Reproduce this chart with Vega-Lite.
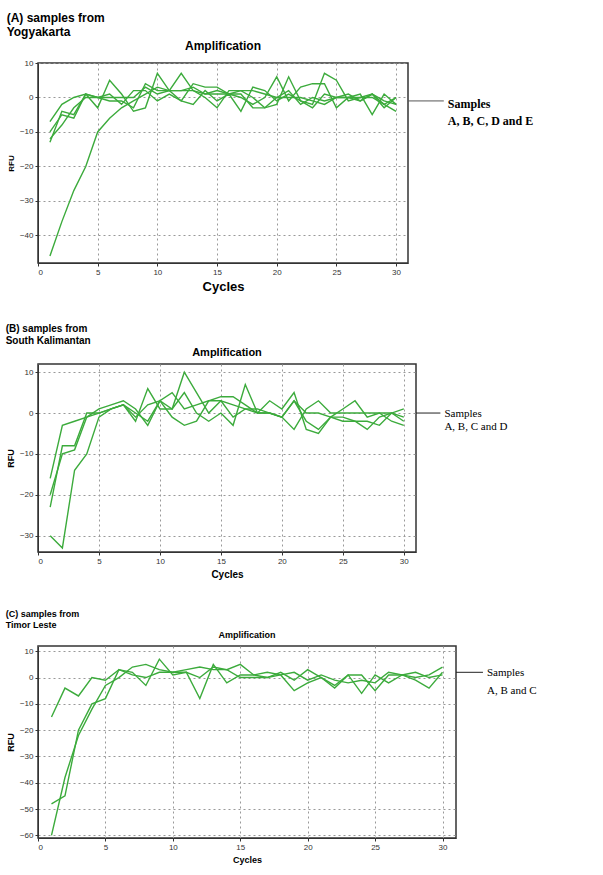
{
"$schema":"https://vega.github.io/schema/vega-lite/v6.json",
"background":"white",
"padding":{"left":5,"top":12,"right":5,"bottom":3},
"spacing":30,
"config":{"font":"Liberation Sans","view":{"stroke":"#333","strokeWidth":1.5},
"axis":{"grid":true,"gridDash":[2,3],"gridColor":"#999","labelFontSize":8,"labelColor":"#333","labelOverlap":false,"titleFontSize":12,"titleFontWeight":"bold","domainColor":"#333","tickColor":"#333","tickSize":3},
"title":{"fontSize":12,"fontWeight":"bold"},
"line":{"color":"#3cab3c","strokeWidth":1.4}},
"datasets":{
"A":[
{"c":1,"a":-46,"b":-7,"d":-13,"e":-10,"f":-12},
{"c":2,"a":-36,"b":-2,"d":-4,"e":-5,"f":-8},
{"c":3,"a":-27,"b":0,"d":-5,"e":-6,"f":-3},
{"c":4,"a":-20,"b":1,"d":1,"e":1,"f":0},
{"c":5,"a":-10,"b":-3,"d":0,"e":0,"f":0},
{"c":6,"a":-6,"b":5,"d":0,"e":1,"f":-1},
{"c":7,"a":-3,"b":1,"d":0,"e":-2,"f":-1},
{"c":8,"a":-1,"b":-4,"d":0,"e":2,"f":-3},
{"c":9,"a":1,"b":-3,"d":3,"e":2,"f":4},
{"c":10,"a":3,"b":7,"d":1,"e":-1,"f":2},
{"c":11,"a":2,"b":2,"d":2,"e":1,"f":2},
{"c":12,"a":2,"b":-1,"d":7,"e":-1,"f":2},
{"c":13,"a":2,"b":4,"d":2,"e":-2,"f":3},
{"c":14,"a":1,"b":3,"d":0,"e":2,"f":1},
{"c":15,"a":1,"b":3,"d":-3,"e":-1,"f":2},
{"c":16,"a":1,"b":1,"d":2,"e":1,"f":1},
{"c":17,"a":2,"b":0,"d":2,"e":-4,"f":1},
{"c":18,"a":2,"b":-2,"d":0,"e":3,"f":-3},
{"c":19,"a":1,"b":0,"d":-3,"e":2,"f":-3},
{"c":20,"a":0,"b":6,"d":-2,"e":-1,"f":0},
{"c":21,"a":0,"b":-1,"d":6,"e":1,"f":2},
{"c":22,"a":0,"b":3,"d":-1,"e":-1,"f":-2},
{"c":23,"a":-1,"b":4,"d":-2,"e":-3,"f":0},
{"c":24,"a":-2,"b":4,"d":7,"e":1,"f":-1},
{"c":25,"a":0,"b":-3,"d":5,"e":0,"f":0},
{"c":26,"a":0,"b":0,"d":-1,"e":1,"f":0},
{"c":27,"a":0,"b":1,"d":0,"e":-1,"f":-1},
{"c":28,"a":1,"b":-5,"d":0,"e":1,"f":1},
{"c":29,"a":-1,"b":1,"d":-2,"e":-2,"f":-3},
{"c":30,"a":-2,"b":-2,"d":0,"e":-4,"f":0}],
"B":[
{"c":1,"a":-30,"b":-23,"d":-16,"e":-20},
{"c":2,"a":-33,"b":-8,"d":-3,"e":-10},
{"c":3,"a":-14,"b":-8,"d":-2,"e":-9},
{"c":4,"a":-10,"b":0,"d":-1,"e":-1},
{"c":5,"a":-1,"b":0,"d":1,"e":0},
{"c":6,"a":1,"b":1,"d":2,"e":1},
{"c":7,"a":2,"b":2,"d":3,"e":2},
{"c":8,"a":0,"b":-2,"d":1,"e":-1},
{"c":9,"a":-2,"b":6,"d":-3,"e":2},
{"c":10,"a":3,"b":1,"d":3,"e":3},
{"c":11,"a":5,"b":1,"d":-1,"e":1},
{"c":12,"a":1,"b":10,"d":-3,"e":5},
{"c":13,"a":2,"b":5,"d":-2,"e":0},
{"c":14,"a":3,"b":0,"d":3,"e":-2},
{"c":15,"a":3,"b":3,"d":4,"e":0},
{"c":16,"a":-1,"b":2,"d":4,"e":-3},
{"c":17,"a":1,"b":1,"d":2,"e":7},
{"c":18,"a":1,"b":0,"d":0,"e":0},
{"c":19,"a":0,"b":3,"d":0,"e":0},
{"c":20,"a":-1,"b":1,"d":-1,"e":-1},
{"c":21,"a":3,"b":5,"d":-4,"e":3},
{"c":22,"a":-2,"b":-4,"d":1,"e":0},
{"c":23,"a":-4,"b":-5,"d":3,"e":0},
{"c":24,"a":-1,"b":-1,"d":0,"e":-1},
{"c":25,"a":-1,"b":1,"d":0,"e":-2},
{"c":26,"a":-2,"b":3,"d":0,"e":-2},
{"c":27,"a":-4,"b":-1,"d":0,"e":-2},
{"c":28,"a":-1,"b":0,"d":0,"e":-3},
{"c":29,"a":0,"b":-2,"d":0,"e":0},
{"c":30,"a":-2,"b":-3,"d":1,"e":-1}],
"C":[
{"c":1,"a":-15,"b":-48,"d":-60},
{"c":2,"a":-4,"b":-45,"d":-38},
{"c":3,"a":-7,"b":-20,"d":-22},
{"c":4,"a":0,"b":-10,"d":-12},
{"c":5,"a":-1,"b":-8,"d":-3},
{"c":6,"a":3,"b":3,"d":0},
{"c":7,"a":2,"b":1,"d":4},
{"c":8,"a":-3,"b":0,"d":5},
{"c":9,"a":7,"b":2,"d":3},
{"c":10,"a":1,"b":2,"d":2},
{"c":11,"a":2,"b":2,"d":3},
{"c":12,"a":0,"b":-8,"d":4},
{"c":13,"a":4,"b":5,"d":3},
{"c":14,"a":3,"b":-2,"d":3},
{"c":15,"a":5,"b":1,"d":0},
{"c":16,"a":1,"b":1,"d":0},
{"c":17,"a":0,"b":2,"d":0},
{"c":18,"a":1,"b":1,"d":2},
{"c":19,"a":2,"b":-5,"d":-1},
{"c":20,"a":-1,"b":-2,"d":3},
{"c":21,"a":1,"b":0,"d":0},
{"c":22,"a":-1,"b":-3,"d":-4},
{"c":23,"a":-2,"b":1,"d":1},
{"c":24,"a":-1,"b":-6,"d":1},
{"c":25,"a":-2,"b":1,"d":-5},
{"c":26,"a":2,"b":-2,"d":1},
{"c":27,"a":1,"b":1,"d":1},
{"c":28,"a":0,"b":-1,"d":2},
{"c":29,"a":1,"b":-4,"d":0},
{"c":30,"a":4,"b":2,"d":1}],
"annA":[{"x":31,"x2":34,"y":-1}],
"annB":[{"x":31,"x2":33,"y":0}],
"annC":[{"x":31,"x2":33,"y":2}]
},
"vconcat":[
{"title":{"text":["(A) samples from","Yogyakarta"],"anchor":"start","fontSize":12,"offset":0},
 "vconcat":[{"width":370,"height":200,
 "title":{"text":"Amplification","fontSize":12,"offset":6},
 "layer":[
  {"data":{"name":"A"},"transform":[{"fold":["a","b","d","e","f"],"as":["s","v"]}],
   "mark":{"type":"line","clip":true},
   "encoding":{"x":{"field":"c","type":"quantitative","scale":{"domain":[0,31]},"title":"Cycles","axis":{"values":[0,5,10,15,20,25,30],"titleFontSize":13}},
   "y":{"field":"v","type":"quantitative","scale":{"domain":[-48,10],"nice":false},"title":"RFU","axis":{"values":[10,0,-10,-20,-30,-40],"titleFontSize":8}},
   "detail":{"field":"s"}}},
  {"data":{"name":"annA"},"mark":{"type":"rule","color":"#555","clip":false},"encoding":{"x":{"field":"x","type":"quantitative","scale":{"domain":[0,31]},"title":"Cycles","axis":{"values":[0,5,10,15,20,25,30],"titleFontSize":13}},"x2":{"field":"x2"},"y":{"field":"y","type":"quantitative","title":"RFU","axis":{"values":[10,0,-10,-20,-30,-40],"titleFontSize":8}}}},
  {"data":{"name":"annA"},"mark":{"type":"text","align":"left","baseline":"top","clip":false,"font":"Liberation Serif","fontSize":12,"fontWeight":"bold","dx":4,"dy":-2,"lineHeight":17},"encoding":{"x":{"field":"x2","type":"quantitative","scale":{"domain":[0,31]},"title":"Cycles","axis":{"values":[0,5,10,15,20,25,30],"titleFontSize":13}},"y":{"field":"y","type":"quantitative","title":"RFU","axis":{"values":[10,0,-10,-20,-30,-40],"titleFontSize":8}},"text":{"value":["Samples","A, B, C, D and E"]}}}
 ]}]},
{"title":{"text":["(B) samples from","South Kalimantan"],"anchor":"start","fontSize":10,"offset":0},
 "vconcat":[{"width":378,"height":188,
 "title":{"text":"Amplification","fontSize":11,"offset":6},
 "layer":[
  {"data":{"name":"B"},"transform":[{"fold":["a","b","d","e"],"as":["s","v"]}],
   "mark":{"type":"line","clip":true},
   "encoding":{"x":{"field":"c","type":"quantitative","scale":{"domain":[0,31]},"title":"Cycles","axis":{"values":[0,5,10,15,20,25,30],"titleFontSize":10}},
   "y":{"field":"v","type":"quantitative","scale":{"domain":[-34,12],"nice":false},"title":"RFU","axis":{"values":[10,0,-10,-20,-30],"titleFontSize":9}},
   "detail":{"field":"s"}}},
  {"data":{"name":"annB"},"mark":{"type":"rule","color":"#222","clip":false},"encoding":{"x":{"field":"x","type":"quantitative","scale":{"domain":[0,31]},"title":"Cycles","axis":{"values":[0,5,10,15,20,25,30],"titleFontSize":10}},"x2":{"field":"x2"},"y":{"field":"y","type":"quantitative","title":"RFU","axis":{"values":[10,0,-10,-20,-30],"titleFontSize":9}}}},
  {"data":{"name":"annB"},"mark":{"type":"text","align":"left","baseline":"top","clip":false,"font":"Liberation Serif","fontSize":11,"dx":4,"dy":-5,"lineHeight":13},"encoding":{"x":{"field":"x2","type":"quantitative","scale":{"domain":[0,31]},"title":"Cycles","axis":{"values":[0,5,10,15,20,25,30],"titleFontSize":10}},"y":{"field":"y","type":"quantitative","title":"RFU","axis":{"values":[10,0,-10,-20,-30],"titleFontSize":9}},"text":{"value":["Samples","A, B, C and D"]}}}
 ]}]},
{"title":{"text":["(C) samples from","Timor Leste"],"anchor":"start","fontSize":9,"offset":0},
 "vconcat":[{"width":418,"height":192,
 "title":{"text":"Amplification","fontSize":9,"offset":6},
 "layer":[
  {"data":{"name":"C"},"transform":[{"fold":["a","b","d"],"as":["s","v"]}],
   "mark":{"type":"line","clip":true},
   "encoding":{"x":{"field":"c","type":"quantitative","scale":{"domain":[0,31]},"title":"Cycles","axis":{"values":[0,5,10,15,20,25,30],"titleFontSize":9}},
   "y":{"field":"v","type":"quantitative","scale":{"domain":[-61,12],"nice":false},"title":"RFU","axis":{"values":[10,0,-10,-20,-30,-40,-50,-60],"titleFontSize":9}},
   "detail":{"field":"s"}}},
  {"data":{"name":"annC"},"mark":{"type":"rule","color":"#222","clip":false},"encoding":{"x":{"field":"x","type":"quantitative","scale":{"domain":[0,31]},"title":"Cycles","axis":{"values":[0,5,10,15,20,25,30],"titleFontSize":9}},"x2":{"field":"x2"},"y":{"field":"y","type":"quantitative","title":"RFU","axis":{"values":[10,0,-10,-20,-30,-40,-50,-60],"titleFontSize":9}}}},
  {"data":{"name":"annC"},"mark":{"type":"text","align":"left","baseline":"top","clip":false,"font":"Liberation Serif","fontSize":11,"dx":4,"dy":-5,"lineHeight":18},"encoding":{"x":{"field":"x2","type":"quantitative","scale":{"domain":[0,31]},"title":"Cycles","axis":{"values":[0,5,10,15,20,25,30],"titleFontSize":9}},"y":{"field":"y","type":"quantitative","title":"RFU","axis":{"values":[10,0,-10,-20,-30,-40,-50,-60],"titleFontSize":9}},"text":{"value":["Samples","A, B and C"]}}}
 ]}]}
]}
